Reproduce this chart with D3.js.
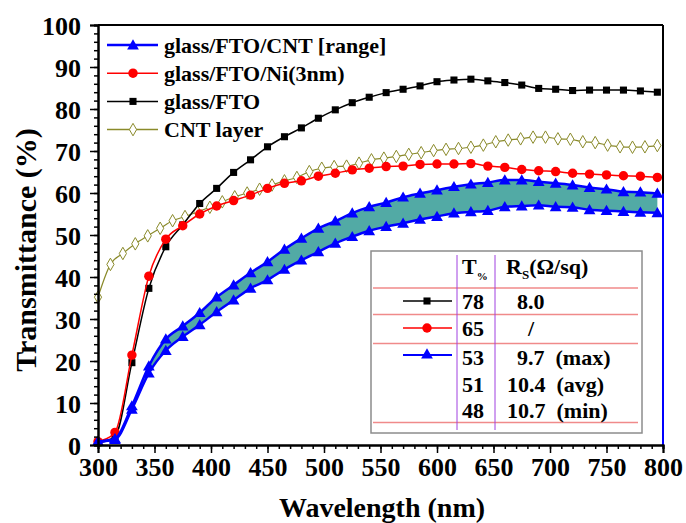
<!DOCTYPE html>
<html><head><meta charset="utf-8">
<script src="https://cdn.jsdelivr.net/npm/d3@7"></script>
<style>
html,body{margin:0;padding:0;background:#fff;}
svg{display:block;font-family:"Liberation Serif","DejaVu Serif","Times New Roman",serif;font-weight:bold;}
</style></head>
<body><svg id="c" width="686" height="523"></svg>
<script>
// ---- data ----
const wl15 = [300,315,330,345,360,375,390,405,420,435,450,465,480,495,510,525,540,555,570,585,600,615,630,645,660,675,690,705,720,735,750,765,780,795];
const glassFTO = [0.5,2.0,19.6,37.3,47.2,52.4,57.5,61.1,64.9,67.9,71.0,73.4,75.5,77.8,79.8,81.5,82.8,83.9,84.7,85.5,86.5,86.9,87.1,86.7,86.3,85.7,84.9,84.7,84.4,84.5,84.5,84.5,84.3,84.0];
const glassFTONi = [0.8,3.0,21.4,40.2,49.0,52.2,55.0,56.9,58.2,59.5,61.1,62.3,62.9,64.0,64.7,65.5,65.9,66.3,66.4,66.8,66.9,66.9,67.0,66.4,66.1,65.6,65.3,65.1,64.7,64.5,64.3,64.1,64.0,63.7];
const cntUpper = [0.8,1.5,9.3,18.8,25.2,28.3,31.5,35.2,38.1,41.0,43.6,46.6,49.2,51.6,53.3,55.2,56.7,57.7,59.0,59.9,60.7,61.5,62.1,62.5,63.1,63.1,62.7,62.3,61.9,61.3,60.9,60.3,60.2,59.9];
const cntLower = [0.8,1.3,8.5,17.1,22.5,25.8,28.6,31.7,34.5,37.3,39.3,41.8,44.0,46.0,48.0,49.6,51.0,52.0,52.8,53.7,54.4,55.2,55.5,55.8,56.7,56.9,57.1,56.7,56.6,56.0,55.8,55.6,55.4,55.3];
const wl11 = [300,311,322,333,344,355,366,377,388,399,410,421,432,443,454,465,476,487,498,509,520,531,542,553,564,575,586,597,608,619,630,641,652,663,674,685,696,707,718,729,740,751,762,773,784,795];
const cntLayer = [35.2,43.0,45.6,47.9,49.8,51.6,53.4,54.4,55.5,56.6,57.9,59.1,60.0,60.9,61.9,62.9,63.7,65.1,65.9,66.3,66.4,67.1,67.9,68.3,68.7,69.2,69.6,70.1,70.4,70.6,70.9,71.4,72.2,72.6,72.9,73.3,73.3,72.9,72.8,72.2,72.0,71.4,71.0,70.9,71.0,71.3];
const xTicks = [300,350,400,450,500,550,600,650,700,750,800];
const yTicks = [0,10,20,30,40,50,60,70,80,90,100];
const legendLabels = ["glass/FTO/CNT [range]","glass/FTO/Ni(3nm)","glass/FTO","CNT layer"];
const tableT = ["78","65","53","51","48"];
const tableR = ["8.0","/","9.7  (max)","10.4  (avg)","10.7  (min)"];

// ---- chart ----
const svg = d3.select("#c");
const L=98,R=663,T=25,B=445;
const x = d3.scaleLinear().domain([300,800]).range([L,R]);
const y = d3.scaleLinear().domain([0,100]).range([B,T]);
const BLUE="#0000ff", RED="#ff0000", OLIVE="#8a8a2a", TEAL="#52aaa5";
const FONT='"Liberation Serif","DejaVu Serif","Times New Roman",serif';

const g = svg.append("g");
const curve = d3.curveMonotoneX;
const zip = (xs,ys)=>xs.map((v,i)=>[v,ys[i]]);

// fill band
const band = wl15.map((w,i)=>({w,lo:cntLower[i],hi:cntUpper[i]}));
g.append("path").datum(band)
 .attr("d", d3.area().curve(curve).x(d=>x(d.w)).y0(d=>y(d.lo)).y1(d=>y(d.hi)))
 .attr("fill",TEAL);

const line = d3.line().curve(curve).x(d=>x(d[0])).y(d=>y(d[1]));
function series(xs,ys,color,w){
  g.append("path").datum(zip(xs,ys)).attr("d",line).attr("fill","none").attr("stroke",color).attr("stroke-width",w);
}
const tri = d3.symbol().type(d3.symbolTriangle).size(60);
const sq = d3.symbol().type(d3.symbolSquare).size(50);
const circ = d3.symbol().type(d3.symbolCircle).size(70);
const dia = d3.symbol().type(d3.symbolDiamond).size(45);

// CNT layer
series(wl11,cntLayer,OLIVE,1.2);
g.selectAll(".dia").data(zip(wl11,cntLayer)).join("path")
 .attr("d",dia).attr("transform",d=>`translate(${x(d[0])},${y(d[1])})`)
 .attr("fill","#fff").attr("stroke",OLIVE).attr("stroke-width",1);
// black
series(wl15,glassFTO,"#000",1.5);
g.selectAll(".sq").data(zip(wl15,glassFTO)).join("path")
 .attr("d",sq).attr("transform",d=>`translate(${x(d[0])},${y(d[1])})`).attr("fill","#000");
// red
series(wl15,glassFTONi,RED,1.5);
g.selectAll(".ci").data(zip(wl15,glassFTONi)).join("path")
 .attr("d",circ).attr("transform",d=>`translate(${x(d[0])},${y(d[1])})`).attr("fill",RED);
// blue range
series(wl15,cntUpper,BLUE,2.5);
series(wl15,cntLower,BLUE,2.5);
[cntUpper,cntLower].forEach(arr=>{
 g.append("g").selectAll("path").data(zip(wl15,arr)).join("path")
  .attr("d",tri).attr("transform",d=>`translate(${x(d[0])},${y(d[1])+1})`).attr("fill",BLUE);
});

// frame
svg.append("line").attr("x1",L).attr("x2",R).attr("y1",T).attr("y2",T).attr("stroke","#000").attr("stroke-width",2);
svg.append("line").attr("x1",R).attr("x2",R).attr("y1",T).attr("y2",B).attr("stroke","#000").attr("stroke-width",2);
svg.append("line").attr("x1",R).attr("x2",R).attr("y1",y(cntUpper[cntUpper.length-1])).attr("y2",B).attr("stroke",BLUE).attr("stroke-width",2);

// axes
const xa = svg.append("g").attr("transform",`translate(0,${B})`);
xa.call(d3.axisBottom(x).tickValues(d3.range(300,801,10)).tickSize(4).tickFormat(""));
xa.append("g").call(d3.axisBottom(x).tickValues(xTicks).tickSize(8).tickFormat(d3.format("d")).tickPadding(5));
const ya = svg.append("g").attr("transform",`translate(${L},0)`);
ya.call(d3.axisLeft(y).tickValues(d3.range(0,101,2)).tickSize(4).tickFormat(""));
ya.append("g").call(d3.axisLeft(y).tickValues(yTicks).tickSize(8).tickFormat(d3.format("d")).tickPadding(9));
svg.selectAll(".domain").attr("stroke","#000").attr("stroke-width",2);
svg.selectAll(".tick line").attr("stroke","#000").attr("stroke-width",1.5);
svg.selectAll(".tick text").attr("font-family",FONT).attr("font-weight","bold").attr("font-size",26).attr("fill","#000");
ya.selectAll(".tick text").attr("dy","0.35em");

// axis titles
svg.append("text").attr("x",382).attr("y",517).attr("text-anchor","middle").attr("font-size",28).text("Wavelength (nm)");
svg.append("text").attr("transform","translate(36,250) rotate(-90)").attr("text-anchor","middle").attr("font-size",30).text("Transmittance (%)");

// legend
const lg = svg.append("g");
const legColors=[BLUE,RED,"#000",OLIVE], legSyms=[tri,circ,sq,dia];
legendLabels.forEach((t,i)=>{
 const yy = 45 + i*28.2;
 lg.append("line").attr("x1",107).attr("x2",158).attr("y1",yy).attr("y2",yy).attr("stroke",legColors[i]).attr("stroke-width",i==0?2.5:1.5);
 lg.append("path").attr("d",legSyms[i]).attr("transform",`translate(133,${yy+(i==0?1:0)})`)
   .attr("fill",i==3?"#fff":legColors[i]).attr("stroke",i==3?OLIVE:"none");
 lg.append("text").attr("x",164).attr("y",yy+7.5).attr("font-size",22).text(t);
});

// table
const tb = svg.append("g");
tb.append("rect").attr("x",371).attr("y",251).attr("width",271).attr("height",182).attr("fill","#fff").attr("stroke","#8c8c8c").attr("stroke-width",1.5);
[288,314.5,343.5,422.5].forEach(v=>tb.append("line").attr("x1",373).attr("x2",638).attr("y1",v).attr("y2",v).attr("stroke","#f08a8a").attr("stroke-width",1.5));
[457,495].forEach(v=>tb.append("line").attr("x1",v).attr("x2",v).attr("y1",255).attr("y2",430).attr("stroke","#a040e0").attr("stroke-width",1));
const th = tb.append("text").attr("x",462).attr("y",274).attr("font-size",22);
th.append("tspan").text("T");
th.append("tspan").attr("font-size",11).attr("dy",6).text("%");
const th2 = tb.append("text").attr("x",506).attr("y",274).attr("font-size",22);
th2.append("tspan").text("R");
th2.append("tspan").attr("font-size",13).attr("dy",5).text("S");
th2.append("tspan").attr("dy",-5).text("(Ω/sq)");
const rowY=[308.5,336,364.5,392,417.5];
const rX=[517,528,517,507,507];
tableT.forEach((t,i)=>{
 tb.append("text").attr("x",462).attr("y",rowY[i]).attr("font-size",22).text(t);
 tb.append("text").attr("x",rX[i]).attr("y",rowY[i]).attr("font-size",22).attr("xml:space","preserve").style("white-space","pre").text(tableR[i]);
});
const sampC=["#000",RED,BLUE], sampS=[sq,circ,tri], sampY=[301,328,355];
sampY.forEach((yy,i)=>{
 tb.append("line").attr("x1",403).attr("x2",452).attr("y1",yy).attr("y2",yy).attr("stroke",sampC[i]).attr("stroke-width",i==2?2:1.5);
 tb.append("path").attr("d",sampS[i]).attr("transform",`translate(427,${yy})`).attr("fill",sampC[i]);
});
</script></body></html>
